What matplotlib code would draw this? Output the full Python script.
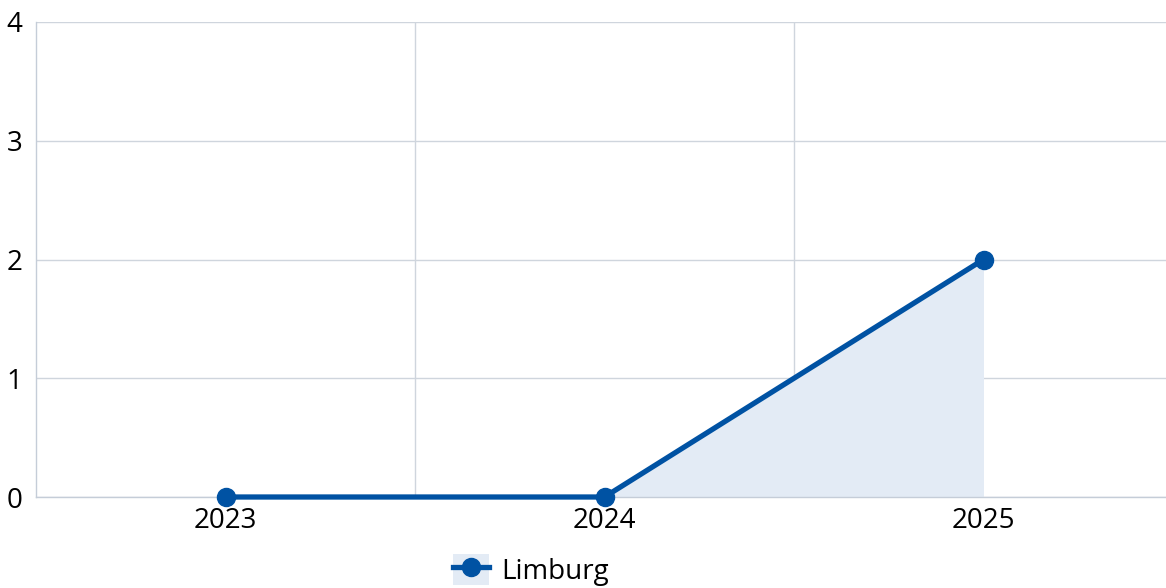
import matplotlib
matplotlib.use("Agg")
import matplotlib.pyplot as plt
from matplotlib.lines import Line2D
from matplotlib.patches import Patch
from matplotlib.legend_handler import HandlerTuple

plt.rcParams['font.family'] = ['Open Sans', 'DejaVu Sans']

years = ["2023", "2024", "2025"]
limburg = [0, 0, 2]
y_ticks = [0, 1, 2, 3, 4]

line_color = "#0052a3"
fill_color = "#e3ebf5"
grid_color = "#cfd5dd"

W, H = 1166, 588
fig = plt.figure(figsize=(W / 100, H / 100), dpi=100)
left, right, top, bottom = 36, 1173, 22, 497
ax = fig.add_axes([left / W, (H - bottom) / H, (right - left) / W, (bottom - top) / H])

x = list(range(len(years)))
ax.fill_between(x, 0, limburg, color=fill_color, lw=0, zorder=1)
ax.plot(x, limburg, color=line_color, lw=3.8, marker="o", markersize=13, zorder=3,
        clip_on=False)

ax.set_xlim(-0.5, len(years) - 0.5)
ax.set_ylim(0, 4)
ax.set_yticks(y_ticks)
ax.set_yticklabels([str(v) for v in y_ticks])
ax.set_xticks(x)
ax.set_xticklabels(years)
ax.set_xticks([i + 0.5 for i in x[:-1]], minor=True)

ax.grid(True, axis="y", which="major", color=grid_color, lw=1)
ax.grid(True, axis="x", which="minor", color=grid_color, lw=1)
ax.grid(False, axis="x", which="major")
ax.set_axisbelow(True)

for s in ["top", "right"]:
    ax.spines[s].set_visible(False)
for s in ["left", "bottom"]:
    ax.spines[s].set_color("#c5cdd8")
    ax.spines[s].set_linewidth(1)

ax.tick_params(axis="both", which="both", length=0, labelsize=20, colors="black")
ax.tick_params(axis="y", pad=10)
ax.tick_params(axis="x", pad=7)

handle = (Patch(facecolor=fill_color, edgecolor="none"),
          Line2D([], [], color=line_color, lw=3.8, marker="o", markersize=13))
fig.legend([handle], ["Limburg"], handler_map={tuple: HandlerTuple(ndivide=1)},
           loc="center", bbox_to_anchor=(531 / W, 1 - 570 / H), frameon=False,
           fontsize=20, handlelength=1.3, handleheight=1.3, handletextpad=0.45)

fig.savefig("out.png", dpi=100)
